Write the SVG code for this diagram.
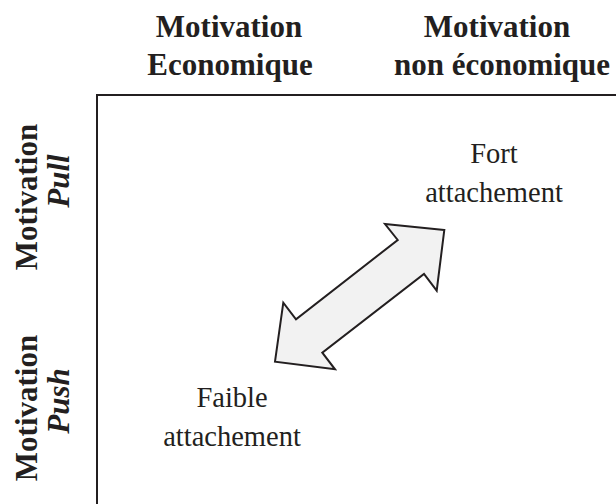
<svg xmlns="http://www.w3.org/2000/svg" width="616" height="504" viewBox="0 0 616 504">
<style>
.h{font-family:"Liberation Serif","Times New Roman",serif;font-weight:bold;font-size:31px;fill:#231f20;text-anchor:middle}
.hi{font-style:italic}
.t{font-family:"Liberation Serif","Times New Roman",serif;font-size:28.5px;fill:#231f20;text-anchor:middle}
.frame{fill:none;stroke:#231f20;stroke-width:2}
.arrow{fill:#f2f2f2;stroke:#231f20;stroke-width:2;stroke-linejoin:miter}
</style>
<rect width="616" height="504" fill="#fff"/>
<g id="frame"><path class="frame" d="M97,504 V95 H616"/></g>
<g id="col-eco"><text class="h" x="229" y="37">Motivation</text><text class="h" x="230" y="75">Economique</text></g>
<g id="col-noneco"><text class="h" x="497" y="37">Motivation</text><text class="h" x="502" y="75">non économique</text></g>
<g id="row-pull"><text class="h" transform="translate(37,197) rotate(-90)" x="0" y="0">Motivation</text><text class="h hi" transform="translate(69,181) rotate(-90)" x="0" y="0">Pull</text></g>
<g id="row-push"><text class="h" transform="translate(37,408) rotate(-90)" x="0" y="0">Motivation</text><text class="h hi" transform="translate(69,401) rotate(-90)" x="0" y="0">Push</text></g>
<g id="fort"><text class="t" x="494" y="163">Fort</text><text class="t" x="494" y="202">attachement</text></g>
<g id="faible"><text class="t" x="232" y="407">Faible</text><text class="t" x="232" y="446">attachement</text></g>
<g id="connectors"><path class="arrow" d="M444.3,230 L385,224 L397.7,240 L296,319.3 L283.3,302.7 L275,361.7 L335,369.3 L322.3,352.7 L424,274 L436.7,290.7 Z"/></g>
</svg>
